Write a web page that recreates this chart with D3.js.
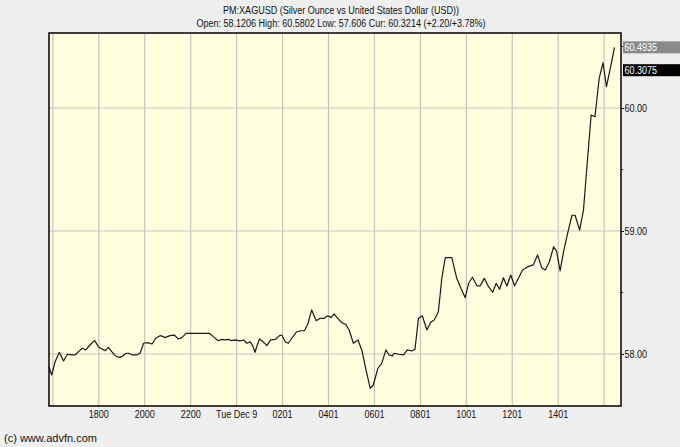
<!DOCTYPE html>
<html>
<head>
<meta charset="utf-8">
<script src="https://cdn.jsdelivr.net/npm/d3@7"></script>
<style>
  body { margin: 0; background: #efefef; }
  svg { display: block; font-family: "Liberation Sans", Arial, sans-serif; }
</style>
</head>
<body>
<svg width="680" height="447"></svg>
<script>
// readings taken off the chart (Dec 8 -> Dec 9)
const times = [
  "12-08 15:50","12-08 15:57","12-08 16:06","12-08 16:17","12-08 16:28","12-08 16:38","12-08 16:48","12-08 16:58",
  "12-08 17:07","12-08 17:17","12-08 17:26","12-08 17:37","12-08 17:49","12-08 17:59","12-08 18:08","12-08 18:17",
  "12-08 18:25","12-08 18:34","12-08 18:43","12-08 18:53","12-08 19:02","12-08 19:11","12-08 19:19","12-08 19:28",
  "12-08 19:39","12-08 19:48","12-08 19:57","12-08 20:08","12-08 20:19","12-08 20:29","12-08 20:40","12-08 20:49",
  "12-08 20:53","12-08 21:06","12-08 21:17","12-08 21:28","12-08 21:37","12-08 21:48","12-08 22:49","12-08 22:59",
  "12-08 23:12","12-08 23:21","12-08 23:30","12-08 23:39","12-08 23:47","12-08 23:56","12-09 00:09","12-09 00:18",
  "12-09 00:27","12-09 00:35","12-09 00:42","12-09 00:48","12-09 00:54","12-09 01:00","12-09 01:09","12-09 01:19",
  "12-09 01:29","12-09 01:41","12-09 01:52","12-09 01:58","12-09 02:07","12-09 02:15","12-09 02:26","12-09 02:37",
  "12-09 02:49","12-09 02:57","12-09 03:06","12-09 03:16","12-09 03:28","12-09 03:38","12-09 03:49","12-09 03:58",
  "12-09 04:07","12-09 04:15","12-09 04:24","12-09 04:35","12-09 04:45","12-09 04:54","12-09 05:05","12-09 05:17",
  "12-09 05:27","12-09 05:38","12-09 05:49","12-09 05:57","12-09 06:09","12-09 06:19","12-09 06:30","12-09 06:38",
  "12-09 06:47","12-09 06:51","12-09 07:03","12-09 07:16","12-09 07:26","12-09 07:38","12-09 07:46","12-09 07:55",
  "12-09 08:05","12-09 08:17","12-09 08:27","12-09 08:36","12-09 08:47","12-09 08:56","12-09 09:05","12-09 09:22",
  "12-09 09:35","12-09 09:46","12-09 09:57","12-09 10:06","12-09 10:16","12-09 10:28","12-09 10:36","12-09 10:47",
  "12-09 10:58","12-09 11:09","12-09 11:18","12-09 11:27","12-09 11:37","12-09 11:46","12-09 11:56","12-09 12:06",
  "12-09 12:16","12-09 12:27","12-09 12:41","12-09 12:55","12-09 13:06","12-09 13:17","12-09 13:26","12-09 13:37",
  "12-09 13:48","12-09 13:56","12-09 14:05","12-09 14:14","12-09 14:25","12-09 14:36","12-09 14:44","12-09 14:56",
  "12-09 15:06","12-09 15:15","12-09 15:26","12-09 15:36","12-09 15:47","12-09 15:57","12-09 16:06","12-09 16:16",
  "12-09 16:27"
];
const prices = [
  57.897,57.829,57.937,58.014,57.943,57.998,57.992,57.992,
  58.019,58.046,58.033,58.073,58.111,58.059,58.041,58.027,
  58.054,58.019,57.986,57.973,57.981,58.006,58.006,57.992,
  57.992,58.006,58.087,58.092,58.081,58.128,58.149,58.141,
  58.133,58.149,58.154,58.122,58.133,58.168,58.168,58.141,
  58.108,58.119,58.114,58.119,58.108,58.114,58.106,58.114,
  58.087,58.100,58.068,58.014,58.073,58.122,58.100,58.068,
  58.114,58.118,58.149,58.154,58.100,58.087,58.136,58.181,
  58.189,58.189,58.244,58.358,58.271,58.290,58.290,58.311,
  58.298,58.325,58.290,58.254,58.241,58.195,58.087,58.114,
  58.033,57.870,57.721,57.748,57.884,57.924,58.033,57.992,
  57.984,58.006,57.998,57.992,58.033,58.024,58.041,58.290,
  58.311,58.195,58.258,58.276,58.344,58.615,58.783,58.783,
  58.615,58.534,58.458,58.575,58.624,58.553,58.553,58.615,
  58.547,58.502,58.575,58.526,58.620,58.553,58.642,58.555,
  58.615,58.683,58.710,58.724,58.805,58.702,58.683,58.750,
  58.872,58.832,58.675,58.832,58.986,59.128,59.128,59.008,
  59.171,59.523,59.943,59.929,60.241,60.368,60.173,60.323,
  60.493
];

// x gridlines every two hours, with their labels ("" = unlabelled)
const xTickTimes = ["12-08 16:00","12-08 18:00","12-08 20:00","12-08 22:00","12-09 00:00","12-09 02:00",
                    "12-09 04:00","12-09 06:00","12-09 08:00","12-09 10:00","12-09 12:00","12-09 14:00","12-09 16:00"];
const xTickLabels = ["","1800","2000","2200","Tue Dec 9","0201","0401","0601","0801","1001","1201","1401",""];
const yTicks = [58, 59, 60];
const yMinorTicks = [57.5, 58.5, 59.5, 60.5];

const titleLine = "PM:XAGUSD (Silver Ounce vs United States Dollar (USD))";
const statsLine = "Open: 58.1206 High: 60.5802 Low: 57.606 Cur: 60.3214 (+2.20/+3.78%)";
const markers = [{value: 60.4935, fill: "#8a8a8a"}, {value: 60.3075, fill: "#000000"}];

const parse = t => d3.timeParse("%Y-%m-%d %H:%M")("2025-" + t);
const data = times.map((t, i) => ({date: parse(t), value: prices[i]}));

const svg = d3.select("svg");
const plotL = 49, plotR = 621, plotT = 33, plotB = 406;
const narrow = 0.82; // the original font is a condensed sans

const x = d3.scaleTime()
    .domain([parse("12-08 15:50"), parse("12-09 16:44")])
    .range([plotL, plotR]);
const y = d3.scaleLinear()
    .domain([57.577, 60.61])
    .range([plotB, plotT]);

const squeeze = (tx, ty) => `translate(${tx},${ty}) scale(${narrow},1)`;

svg.append("rect")
    .attr("x", plotL).attr("y", plotT)
    .attr("width", plotR - plotL).attr("height", plotB - plotT)
    .attr("fill", "#ffffe0");

// grid
svg.append("g")
    .selectAll("line")
    .data(xTickTimes.map(parse))
    .enter().append("line")
    .attr("x1", d => x(d)).attr("x2", d => x(d))
    .attr("y1", plotT).attr("y2", plotB)
    .attr("stroke", "#c4c4bc").attr("stroke-width", 1.2);
svg.append("g")
    .selectAll("line")
    .data(yTicks)
    .enter().append("line")
    .attr("x1", plotL).attr("x2", plotR)
    .attr("y1", d => y(d)).attr("y2", d => y(d))
    .attr("stroke", "#c4c4bc").attr("stroke-width", 1.2);

// price line
svg.append("path")
    .datum(data)
    .attr("fill", "none")
    .attr("stroke", "#1a1a1a")
    .attr("stroke-width", 1.2)
    .attr("stroke-linejoin", "round")
    .attr("d", d3.line().x(d => x(d.date)).y(d => y(d.value)));

// frame
svg.append("rect")
    .attr("x", plotL).attr("y", plotT)
    .attr("width", plotR - plotL).attr("height", plotB - plotT)
    .attr("fill", "none").attr("stroke", "#000").attr("stroke-width", 1.5);

// x labels
svg.append("g")
    .selectAll("text")
    .data(xTickTimes)
    .enter().append("text")
    .attr("transform", d => squeeze(x(parse(d)), 418))
    .attr("text-anchor", "middle")
    .attr("font-size", 11)
    .attr("fill", "#111")
    .text((d, i) => xTickLabels[i]);

// right axis
const yAxis = d3.axisRight(y)
    .tickValues(yTicks)
    .tickSize(3)
    .tickFormat(d3.format(".2f"));
const ya = svg.append("g")
    .attr("transform", `translate(${plotR},0)`)
    .call(yAxis);
ya.select(".domain").remove();
ya.selectAll(".tick text")
    .attr("x", 0)
    .attr("transform", squeeze(3.5, 0))
    .attr("font-size", 11).attr("fill", "#111")
    .attr("font-family", "'Liberation Sans', Arial, sans-serif");
svg.append("g")
    .selectAll("line")
    .data(yMinorTicks.filter(v => y(v) > plotT && y(v) < plotB))
    .enter().append("line")
    .attr("x1", plotR).attr("x2", plotR + 2)
    .attr("y1", d => y(d)).attr("y2", d => y(d))
    .attr("stroke", "#000");

// value markers
const mk = svg.append("g").selectAll("g").data(markers).enter().append("g");
mk.append("rect")
    .attr("x", 623).attr("y", d => y(d.value) - 6)
    .attr("width", 57).attr("height", 12)
    .attr("fill", d => d.fill);
mk.append("text")
    .attr("transform", d => squeeze(624.5, y(d.value) + 4))
    .attr("font-size", 11)
    .attr("fill", "#fff")
    .text(d => d.value.toFixed(4));

// titles
svg.append("text")
    .attr("transform", squeeze(341, 14))
    .attr("text-anchor", "middle").attr("font-size", 11).attr("fill", "#111")
    .text(titleLine);
svg.append("text")
    .attr("transform", squeeze(341, 27))
    .attr("text-anchor", "middle").attr("font-size", 11).attr("fill", "#111")
    .text(statsLine);
svg.append("text")
    .attr("x", 4).attr("y", 442)
    .attr("font-size", 11).attr("fill", "#111")
    .text("(c) www.advfn.com");
</script>
</body>
</html>
